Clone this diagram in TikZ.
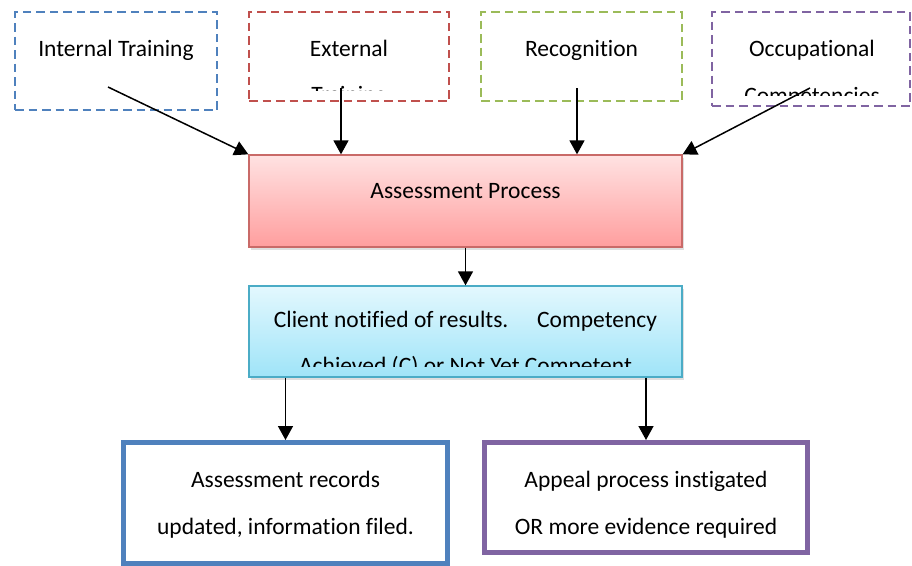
\documentclass[tikz,border=0pt]{standalone}
\usepackage{fontspec}
\setmainfont{Carlito}[Ligatures={NoCommon}]
\usetikzlibrary{arrows.meta,shadows}
\definecolor{cblue}{HTML}{4F81BD}
\definecolor{cred}{HTML}{C0504D}
\definecolor{cgreen}{HTML}{9BBB59}
\definecolor{cpurple}{HTML}{8064A2}
\definecolor{caqua}{HTML}{4BACC6}
\definecolor{pinktop}{HTML}{FFE2E2}
\definecolor{pinkbot}{HTML}{FF9E9E}
\definecolor{skytop}{HTML}{E3F8FE}
\definecolor{skybot}{HTML}{9FE4F8}
\begin{document}
\begin{tikzpicture}[x=1pt, y=-1pt,
		src/.style = {draw, rectangle, dash pattern=on 8.5pt off 5pt, line width=2.2pt, inner sep=0pt},
		flow/.style = {draw, rectangle, line width=1.3pt, inner sep=0pt, drop shadow={shadow xshift=2pt, shadow yshift=-3pt, opacity=0.25}},
		res/.style = {draw, rectangle, line width=5pt, inner sep=0pt},
		txt/.style = {inner sep=0pt, anchor=base, font=\fontsize{23.5}{28}\selectfont},
		arr/.style = {line width=1.5pt, -{Triangle[length=14pt,width=15pt]}}]
		\useasboundingbox (0,0) rectangle (912,565);
		% sources
		\node[src, cblue, minimum width=202pt, minimum height=98pt] (int) at (116,61) {};
		\node[src, cred, minimum width=200pt, minimum height=89pt] (ext) at (349,56.5) {};
		\node[src, cgreen, minimum width=201pt, minimum height=89pt] (rec) at (581.5,56.5) {};
		\node[src, cpurple, minimum width=198pt, minimum height=94pt] (occ) at (811,59) {};
		\node[txt] (int-t) at (116,56) {Internal Training};
		\node[txt] (ext-t) at (349,56) {External};
		\node[txt] (rec-t) at (581.5,56) {Recognition};
		\node[txt] (occ-t) at (812,56) {Occupational};
		\begin{scope}
			\clip (249,12) rectangle (449,90);
			\node[txt] (ext-t2) at (349,102) {Training};
		\end{scope}
		\begin{scope}
			\clip (712,12) rectangle (910,95);
			\node[txt] (occ-t2) at (812,103) {Competencies};
		\end{scope}
		% process
		\node[flow, draw=cred!85, top color=pinktop, bottom color=pinkbot, minimum width=433pt, minimum height=92pt] (asp) at (465.5,201) {};
		\node[txt] (asp-t) at (465.5,198) {Assessment Process};
		\node[flow, draw=caqua, top color=skytop, bottom color=skybot, minimum width=433pt, minimum height=91pt] (cli) at (465.5,331.5) {};
		\node[txt] (cli-t) at (465.5,327) {Client notified of results.\quad\ Competency};
		\begin{scope}
			\clip (249,286) rectangle (682,366);
			\node[txt] (cli-t2) at (465.5,373) {Achieved (C) or Not Yet Competent};
		\end{scope}
		% results
		\node[res, cblue, minimum width=324pt, minimum height=121pt] (recs) at (285.5,503) {};
		\node[res, cpurple, minimum width=323pt, minimum height=110pt] (app) at (646,497.5) {};
		\node[txt] (recs-t) at (285.5,487) {Assessment records};
		\node[txt] (recs-t2) at (285.5,534) {updated, information filed.};
		\node[txt] (app-t) at (646,487) {Appeal process instigated};
		\node[txt] (app-t2) at (646,534) {OR more evidence required};
		% connectors
		\coordinate (int-o) at (108,87);
		\coordinate (ext-o) at (341,88);
		\coordinate (rec-o) at (577,88);
		\coordinate (occ-o) at (810,88);
		\draw[arr] (int-o) -- (asp.north west);
		\draw[arr] (ext-o) -- (asp.north -| ext-o);
		\draw[arr] (rec-o) -- (asp.north -| rec-o);
		\draw[arr] (occ-o) -- (asp.north east);
		\draw[arr] (asp) -- (cli);
		\draw[arr] (cli.south -| recs) -- (recs.north);
		\draw[arr] (cli.south -| app) -- (app.north);
	\end{tikzpicture}
\end{document}
